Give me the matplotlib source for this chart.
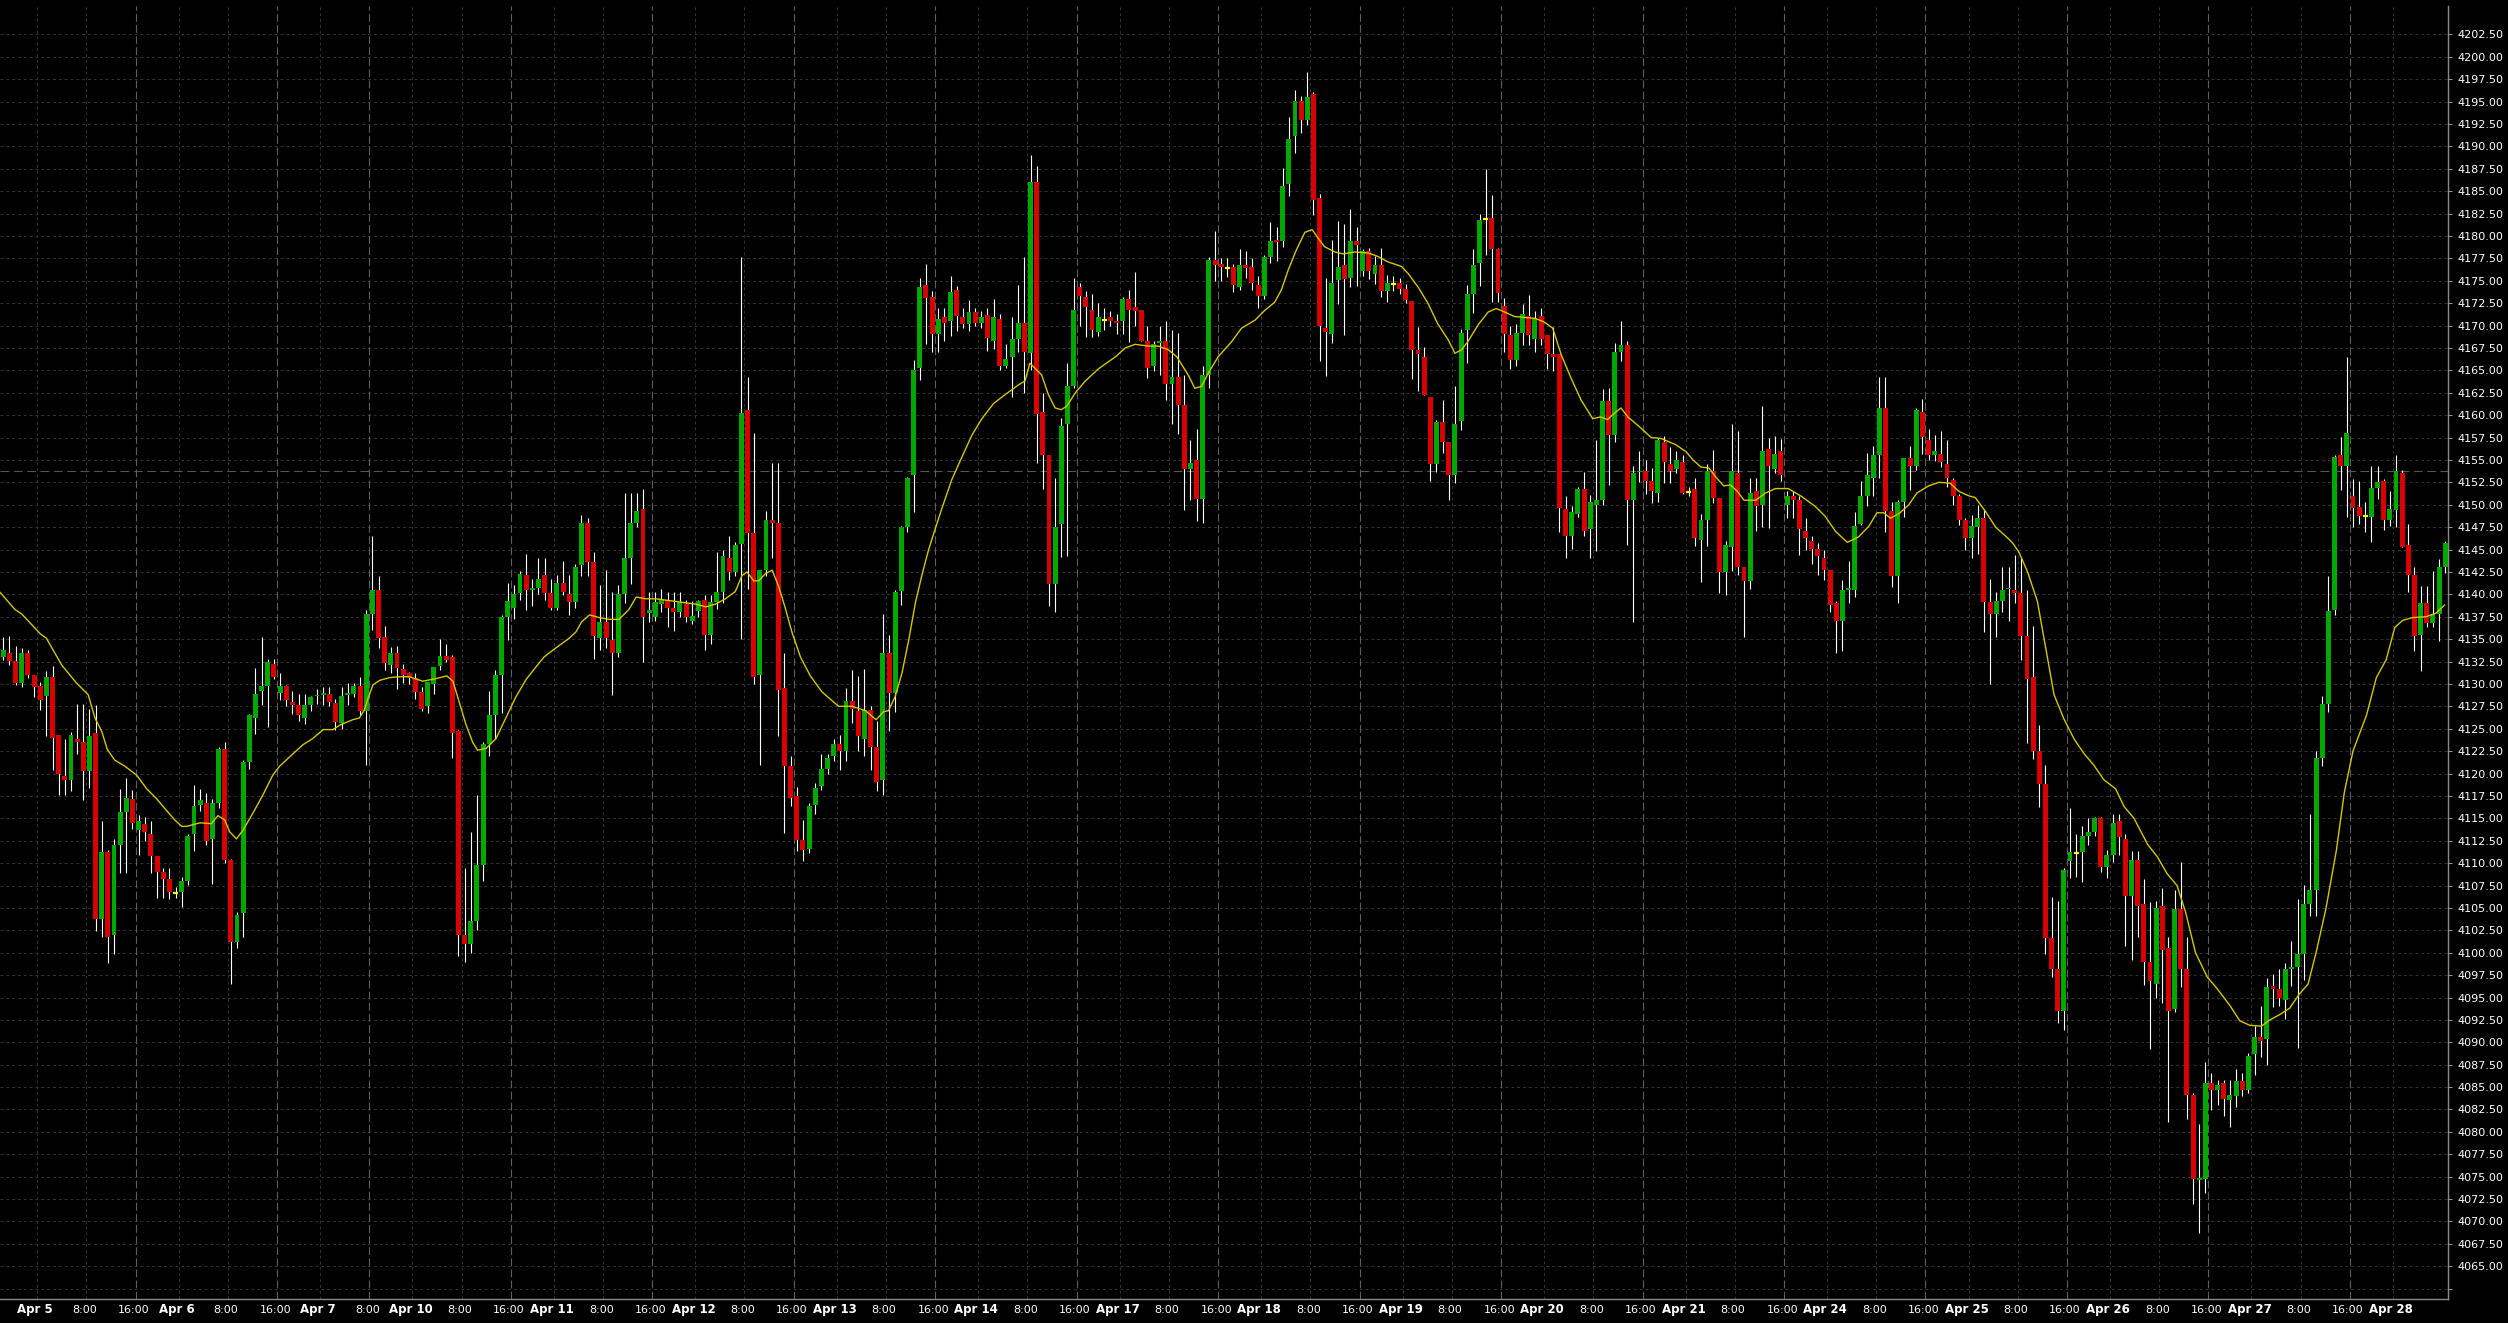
import numpy as np
import matplotlib
matplotlib.use("Agg")
import matplotlib.pyplot as plt
from matplotlib.transforms import blended_transform_factory

# hourly candles, index 0 = Apr 4 18:00
opens = [
    4133.0, 4133.4, 4132.6, 4130.1, 4133.4, 4131.0, 4129.8, 4128.6, 4130.8, 4124.3,
    4119.7, 4119.3, 4123.9, 4123.5, 4120.3, 4124.5, 4103.8, 4111.2, 4102.0, 4112.0,
    4115.7, 4117.1, 4113.7, 4114.4, 4113.2, 4110.8, 4109.0, 4108.2, 4106.7, 4106.8,
    4108.0, 4113.2, 4116.5, 4116.7, 4112.7, 4116.7, 4122.7, 4110.4, 4101.2, 4104.4,
    4121.3, 4126.2, 4129.2, 4129.8, 4132.2, 4129.0, 4129.8, 4128.0, 4127.7, 4126.2,
    4127.7, 4128.6, 4128.8, 4128.9, 4127.9, 4125.6, 4128.8, 4128.9, 4129.8, 4127.0,
    4137.8, 4140.5, 4135.2, 4132.1, 4133.4, 4131.7, 4131.2, 4130.7, 4129.1, 4127.5,
    4130.0, 4132.0, 4133.1, 4133.0, 4124.7, 4102.0, 4101.0, 4103.5, 4109.8, 4123.3,
    4126.5, 4131.0, 4137.5, 4138.5, 4140.1, 4142.1, 4140.5, 4140.7, 4142.1, 4140.2,
    4138.5, 4141.3, 4140.0, 4139.1, 4143.3, 4148.0, 4143.6, 4135.1, 4136.9, 4134.9,
    4133.5, 4140.0, 4144.1, 4148.0, 4149.5, 4137.9, 4137.5, 4138.9, 4139.4, 4138.5,
    4138.0, 4138.9, 4137.0, 4138.1, 4139.4, 4135.5, 4139.1, 4140.3, 4144.1, 4142.5,
    4145.6, 4160.6, 4146.8, 4131.0, 4142.7, 4148.3, 4148.0, 4129.5, 4120.8, 4117.5,
    4112.6, 4111.6, 4116.5, 4118.6, 4120.5, 4122.0, 4123.3, 4122.5, 4128.1, 4127.0,
    4123.9, 4127.1, 4123.0, 4119.3, 4133.5, 4129.0, 4140.4, 4147.5, 4153.3, 4165.3,
    4174.5, 4173.2, 4169.0, 4171.0, 4170.5, 4174.0, 4171.0, 4170.2, 4171.5, 4170.3,
    4171.2, 4168.3, 4170.7, 4165.5, 4166.5, 4168.5, 4170.3, 4166.9, 4186.0, 4160.3,
    4155.5, 4141.1, 4147.8, 4159.0, 4163.3, 4174.3, 4173.2, 4171.7, 4169.3, 4170.6,
    4171.0, 4170.5, 4170.5, 4173.0, 4172.1, 4171.7, 4168.3, 4165.5, 4168.0, 4168.3,
    4163.5, 4164.3, 4161.1, 4154.0, 4155.0, 4150.6, 4164.5, 4177.3, 4176.9, 4176.4,
    4176.5, 4174.3, 4176.8, 4176.5, 4174.5, 4173.3, 4177.6, 4179.5, 4179.4, 4185.8,
    4191.1, 4195.1, 4192.9, 4195.8, 4184.2, 4169.7, 4169.1, 4175.1, 4176.8, 4175.3,
    4179.4, 4176.1, 4178.3, 4175.8, 4176.8, 4173.8, 4174.6, 4174.7, 4174.1, 4172.7,
    4167.3, 4166.5, 4162.0, 4154.5, 4159.2, 4157.0, 4153.3, 4159.3, 4169.5, 4173.5,
    4177.0, 4181.9, 4182.0, 4178.5, 4172.2, 4168.9, 4166.2, 4169.2, 4171.1, 4168.5,
    4171.1, 4168.9, 4166.8, 4166.8, 4149.5, 4146.5, 4149.0, 4151.7, 4147.3, 4150.0,
    4150.5, 4161.6, 4157.8, 4167.0, 4167.8, 4150.5, 4153.6, 4153.8, 4152.6, 4151.3,
    4157.0, 4154.5, 4154.0, 4154.8, 4151.4, 4151.8, 4146.1, 4148.3, 4153.8, 4150.8,
    4142.5, 4145.3, 4153.5, 4143.1, 4141.5, 4151.5, 4150.0, 4156.2, 4154.0, 4156.0,
    4150.0, 4151.0, 4150.5, 4147.1, 4146.0, 4145.1, 4144.0, 4142.7, 4139.0, 4137.0,
    4140.5, 4140.5, 4147.8, 4151.0, 4153.0, 4155.5, 4160.8, 4149.3, 4142.0, 4150.3,
    4155.2, 4154.3, 4160.3, 4157.2, 4155.5, 4155.7, 4154.5, 4152.8, 4151.0, 4148.3,
    4146.3, 4147.5, 4148.5, 4139.1, 4137.8, 4139.3, 4140.6, 4140.5, 4140.2, 4135.3,
    4130.8, 4122.5, 4118.8, 4101.6, 4098.2, 4093.5, 4110.2, 4111.1, 4111.2, 4113.0,
    4113.5, 4115.0, 4109.6, 4110.9, 4114.7, 4112.7, 4106.3, 4110.4, 4105.4, 4099.0,
    4096.5, 4105.2, 4100.5, 4093.7, 4104.9, 4098.2, 4084.1, 4074.6, 4074.7, 4085.5,
    4084.7, 4085.5, 4083.6, 4084.0, 4085.7, 4084.7, 4088.7, 4090.6, 4090.4, 4096.3,
    4096.0, 4094.7, 4098.2, 4098.4, 4099.9, 4105.4, 4107.0, 4121.7, 4127.8, 4138.3,
    4155.5, 4154.3, 4151.0, 4149.7, 4148.7, 4148.6, 4151.9, 4152.7, 4148.3, 4149.4,
    4153.5, 4145.5, 4142.1, 4135.5, 4139.0, 4136.8, 4137.8, 4143.0,
]
highs = [
    4135.2, 4135.4, 4134.2, 4134.0, 4133.8, 4131.0, 4130.2, 4131.4, 4132.0, 4124.3,
    4123.9, 4124.6, 4127.8, 4127.8, 4127.2, 4127.7, 4114.7, 4111.5, 4112.7, 4118.3,
    4119.5, 4118.2, 4115.4, 4115.2, 4114.7, 4110.8, 4109.4, 4109.4, 4107.3, 4108.4,
    4113.3, 4118.7, 4118.3, 4117.8, 4117.2, 4123.0, 4123.5, 4110.5, 4104.5, 4121.5,
    4126.6, 4131.8, 4135.2, 4132.8, 4132.8, 4131.2, 4129.9, 4129.2, 4128.9, 4128.9,
    4128.7, 4129.4, 4129.6, 4129.6, 4128.3, 4129.6, 4130.1, 4130.1, 4130.8, 4138.3,
    4146.5, 4142.0, 4136.5, 4134.1, 4134.2, 4132.2, 4131.3, 4131.2, 4129.6, 4130.2,
    4131.9, 4135.0, 4134.4, 4133.2, 4124.9, 4109.4, 4113.5, 4117.6, 4123.5, 4129.2,
    4131.5, 4137.7, 4141.3, 4141.0, 4142.6, 4144.5, 4141.7, 4144.0, 4144.0, 4141.7,
    4142.1, 4143.7, 4142.2, 4143.4, 4148.9, 4148.5, 4144.7, 4141.0, 4142.7, 4140.3,
    4141.0, 4151.3, 4151.3, 4151.3, 4151.8, 4140.3, 4140.3, 4140.6, 4140.3, 4140.3,
    4140.3, 4139.4, 4139.2, 4139.4, 4139.9, 4139.9, 4144.7, 4145.0, 4146.5, 4145.8,
    4177.7, 4164.2, 4158.0, 4142.7, 4149.3, 4154.6, 4154.6, 4133.4, 4121.9, 4118.5,
    4114.8, 4116.7, 4118.9, 4122.2, 4122.2, 4123.9, 4124.3, 4129.5, 4131.5, 4130.9,
    4131.7, 4127.5, 4125.9, 4137.8, 4135.5, 4140.5, 4147.6, 4153.1, 4166.2, 4175.3,
    4176.9, 4173.8, 4172.0, 4172.0, 4175.5, 4174.4, 4172.0, 4172.9, 4172.0, 4171.6,
    4172.0, 4173.0, 4171.3, 4167.9, 4171.0, 4174.5, 4177.6, 4189.0, 4187.8, 4162.5,
    4155.6, 4153.0, 4159.7, 4165.8, 4175.3, 4174.7, 4173.8, 4173.5, 4172.5, 4171.9,
    4171.6, 4171.3, 4173.2, 4174.0, 4176.0, 4171.7, 4170.0, 4168.3, 4170.0, 4170.5,
    4169.5, 4169.2, 4164.5, 4157.2, 4158.5, 4165.5, 4177.7, 4180.5, 4177.5, 4177.5,
    4176.9, 4178.5, 4178.3, 4177.5, 4175.5, 4177.9, 4181.6, 4181.0, 4187.6, 4193.3,
    4196.3, 4195.6, 4198.3, 4196.1, 4184.7, 4175.3, 4179.5, 4181.7, 4181.3, 4183.0,
    4181.0, 4178.5, 4178.6, 4177.8, 4178.6, 4175.6, 4175.5, 4175.3, 4174.6, 4172.7,
    4169.8, 4167.6, 4162.0, 4159.4, 4161.7, 4157.0, 4163.2, 4169.6, 4174.5, 4178.5,
    4182.5, 4187.5, 4184.6, 4178.7, 4173.1, 4169.9, 4170.2, 4172.4, 4173.4, 4171.6,
    4171.9, 4168.9, 4169.8, 4166.8, 4151.0, 4149.8, 4152.0, 4153.7, 4151.1, 4157.2,
    4162.9, 4163.0, 4168.0, 4170.5, 4168.3, 4154.3, 4156.0, 4155.0, 4154.1, 4157.4,
    4157.7, 4156.4, 4156.0, 4155.6, 4152.0, 4153.0, 4149.0, 4154.5, 4156.1, 4150.8,
    4146.0, 4159.0, 4158.2, 4143.1, 4153.0, 4153.0, 4161.0, 4157.4, 4157.7, 4157.3,
    4151.5, 4151.5, 4151.0, 4148.5, 4146.5, 4145.7, 4145.0, 4142.7, 4139.3, 4141.6,
    4143.7, 4149.2, 4152.6, 4155.8, 4156.5, 4164.2, 4164.3, 4150.3, 4150.5, 4155.2,
    4156.6, 4160.8, 4161.8, 4158.5, 4157.8, 4158.2, 4157.2, 4153.0, 4151.2, 4148.5,
    4148.9, 4150.0, 4149.5, 4141.7, 4140.3, 4143.0, 4143.0, 4144.4, 4144.2, 4140.5,
    4136.5, 4125.4, 4121.0, 4106.2, 4105.8, 4109.5, 4116.2, 4113.3, 4114.1, 4115.0,
    4115.2, 4115.2, 4111.5, 4115.5, 4115.5, 4113.3, 4111.4, 4111.4, 4108.2, 4105.7,
    4105.8, 4107.2, 4101.8, 4107.0, 4110.1, 4101.8, 4084.3, 4080.9, 4087.8, 4086.6,
    4085.8, 4085.8, 4085.8, 4087.0, 4086.6, 4088.8, 4091.8, 4094.0, 4097.2, 4097.6,
    4098.2, 4098.9, 4101.3, 4106.0, 4107.6, 4115.5, 4122.5, 4128.7, 4142.0, 4155.6,
    4157.6, 4166.5, 4152.9, 4152.6, 4150.3, 4154.3, 4154.3, 4152.9, 4151.5, 4155.5,
    4153.9, 4147.8, 4143.0, 4140.9, 4140.9, 4142.6, 4143.9, 4146.0,
]
lows = [
    4132.7, 4132.1, 4129.9, 4129.7, 4130.7, 4128.5, 4127.1, 4124.2, 4120.4, 4117.6,
    4117.6, 4118.0, 4122.2, 4117.0, 4118.4, 4102.4, 4101.7, 4098.9, 4099.9, 4108.9,
    4108.9, 4113.8, 4110.9, 4112.5, 4108.9, 4106.1, 4106.1, 4106.0, 4106.1, 4105.1,
    4107.6, 4111.3, 4115.8, 4112.0, 4107.7, 4116.2, 4110.0, 4096.5, 4100.5, 4101.7,
    4120.5, 4124.4, 4127.6, 4125.2, 4130.5, 4128.2, 4127.5, 4126.6, 4125.9, 4125.5,
    4127.0, 4127.8, 4127.7, 4127.5, 4124.8, 4125.0, 4127.6, 4128.5, 4126.5, 4120.9,
    4136.0, 4134.0, 4131.5, 4131.2, 4129.4, 4130.1, 4130.0, 4128.3, 4127.0, 4126.7,
    4128.9, 4131.5, 4132.5, 4121.7, 4099.6, 4099.0, 4100.0, 4102.5, 4108.0, 4121.9,
    4123.9, 4126.7, 4134.9, 4137.2, 4139.4, 4138.2, 4138.7, 4140.0, 4139.4, 4138.2,
    4138.2, 4139.9, 4137.7, 4138.5, 4142.0, 4142.0, 4132.8, 4133.8, 4134.0, 4128.8,
    4133.0, 4139.0, 4141.2, 4147.5, 4132.5, 4136.9, 4137.0, 4138.0, 4136.4, 4135.9,
    4137.5, 4136.9, 4136.7, 4137.5, 4133.8, 4134.4, 4138.4, 4139.0, 4141.6, 4142.0,
    4135.0, 4140.6, 4130.0, 4120.9, 4142.0, 4144.0, 4124.2, 4113.4, 4116.4, 4111.3,
    4110.2, 4111.1, 4115.5, 4118.2, 4120.0, 4121.4, 4120.4, 4121.4, 4125.6, 4122.5,
    4122.0, 4120.4, 4118.1, 4117.6, 4124.7, 4126.9, 4138.8, 4147.0, 4149.2, 4163.9,
    4167.9, 4167.0, 4167.0, 4168.3, 4168.8, 4169.4, 4169.7, 4169.4, 4170.0, 4169.7,
    4167.2, 4167.4, 4165.0, 4165.3, 4162.0, 4167.0, 4162.5, 4165.0, 4154.7, 4151.7,
    4138.7, 4138.0, 4144.2, 4144.3, 4163.0, 4170.0, 4168.7, 4168.7, 4168.8, 4169.5,
    4170.0, 4169.1, 4169.0, 4168.2, 4170.0, 4168.3, 4164.1, 4164.9, 4164.5, 4161.7,
    4159.0, 4157.9, 4149.4, 4150.5, 4148.2, 4148.0, 4163.0, 4175.0, 4175.0, 4175.4,
    4173.7, 4174.0, 4175.3, 4174.0, 4172.0, 4173.0, 4177.0, 4177.2, 4178.8, 4184.5,
    4189.2, 4191.5, 4192.4, 4182.3, 4166.0, 4164.4, 4168.0, 4172.4, 4168.9, 4174.3,
    4174.4, 4175.5, 4175.2, 4174.6, 4173.2, 4172.6, 4173.9, 4173.5, 4172.5, 4164.0,
    4162.7, 4162.2, 4152.6, 4153.7, 4155.8, 4150.5, 4152.4, 4158.3, 4165.8, 4171.4,
    4174.4, 4177.9, 4172.6, 4172.6, 4167.0, 4165.1, 4165.5, 4167.8, 4167.8, 4167.0,
    4167.8, 4165.1, 4164.9, 4146.9, 4144.0, 4145.1, 4148.6, 4146.5, 4144.0, 4144.8,
    4150.0, 4152.2, 4157.0, 4166.0, 4145.5, 4136.9, 4152.5, 4151.2, 4150.2, 4150.3,
    4152.4, 4152.4, 4153.5, 4151.2, 4151.0, 4145.4, 4141.4, 4145.4, 4150.2, 4140.1,
    4139.9, 4142.6, 4142.2, 4135.2, 4140.6, 4147.1, 4147.5, 4147.4, 4153.5, 4152.7,
    4148.5, 4148.5, 4144.4, 4145.0, 4143.4, 4142.2, 4141.6, 4138.0, 4133.4, 4133.7,
    4139.0, 4139.7, 4147.7, 4149.9, 4151.0, 4153.0, 4147.0, 4140.8, 4139.0, 4148.6,
    4151.6, 4153.9, 4155.7, 4155.0, 4154.9, 4154.2, 4152.0, 4150.0, 4147.7, 4145.0,
    4144.1, 4144.5, 4135.8, 4130.0, 4135.2, 4138.0, 4137.0, 4139.0, 4132.7, 4123.4,
    4121.6, 4116.3, 4099.9, 4097.3, 4092.1, 4091.4, 4108.3, 4108.5, 4107.9, 4112.0,
    4113.0, 4109.0, 4108.3, 4110.1, 4110.9, 4100.7, 4099.2, 4101.8, 4096.4, 4089.3,
    4095.0, 4094.4, 4081.1, 4093.4, 4096.2, 4081.4, 4072.0, 4068.7, 4073.2, 4082.4,
    4083.0, 4081.8, 4080.6, 4082.8, 4084.0, 4084.3, 4086.4, 4088.4, 4087.5, 4093.9,
    4094.0, 4092.6, 4096.3, 4089.4, 4097.0, 4104.1, 4104.1, 4120.8, 4126.9, 4137.7,
    4151.6, 4148.6, 4147.5, 4147.8, 4146.9, 4145.8, 4150.6, 4147.2, 4147.6, 4147.5,
    4145.3, 4140.3, 4133.7, 4131.4, 4136.3, 4136.4, 4134.8, 4142.4,
]
closes = [
    4133.8, 4132.6, 4130.1, 4133.4, 4131.0, 4129.6, 4128.2, 4130.8, 4124.0, 4120.0,
    4119.3, 4124.3, 4123.5, 4120.3, 4124.2, 4103.8, 4111.2, 4101.8, 4112.0, 4115.7,
    4117.3, 4114.5, 4114.7, 4113.5, 4110.8, 4109.0, 4108.2, 4106.8, 4106.7, 4108.0,
    4113.0, 4116.4, 4117.0, 4112.5, 4116.7, 4122.7, 4110.4, 4101.2, 4104.2, 4121.3,
    4126.5, 4128.9, 4129.8, 4132.5, 4130.8, 4129.8, 4128.2, 4127.7, 4126.5, 4127.7,
    4128.5, 4128.8, 4128.9, 4128.0, 4125.8, 4128.7, 4128.9, 4129.8, 4127.0, 4137.8,
    4140.5, 4135.1, 4132.3, 4133.4, 4131.8, 4131.0, 4130.7, 4129.1, 4127.2, 4130.2,
    4131.9, 4133.1, 4132.7, 4124.5, 4102.0, 4101.0, 4103.5, 4109.8, 4123.3, 4126.5,
    4131.0, 4137.5, 4139.3, 4140.0, 4142.3, 4140.5, 4140.7, 4141.7, 4140.1, 4138.5,
    4141.3, 4140.3, 4139.1, 4143.1, 4148.0, 4143.6, 4135.3, 4136.9, 4135.1, 4133.5,
    4140.0, 4144.1, 4148.0, 4149.3, 4137.5, 4138.3, 4139.1, 4139.4, 4138.5, 4138.0,
    4139.1, 4137.5, 4137.6, 4139.2, 4135.5, 4139.1, 4140.3, 4144.3, 4142.5, 4145.5,
    4160.2, 4146.8, 4130.8, 4142.7, 4148.3, 4148.0, 4129.3, 4120.8, 4117.3, 4112.6,
    4111.5, 4116.4, 4118.4, 4120.5, 4121.7, 4123.3, 4122.5, 4128.1, 4127.2, 4124.2,
    4127.1, 4123.0, 4119.0, 4133.5, 4129.0, 4140.3, 4147.5, 4153.0, 4165.0, 4174.3,
    4173.1, 4169.0, 4170.7, 4170.3, 4173.7, 4171.1, 4170.2, 4171.5, 4170.3, 4171.0,
    4168.6, 4171.0, 4165.5, 4166.3, 4168.5, 4170.3, 4167.0, 4186.0, 4160.1, 4155.6,
    4141.1, 4147.5, 4158.8, 4163.2, 4171.7, 4173.3, 4172.1, 4169.5, 4171.0, 4170.6,
    4170.5, 4170.3, 4173.0, 4171.7, 4171.6, 4168.3, 4165.3, 4167.9, 4168.3, 4163.5,
    4164.3, 4161.1, 4154.0, 4154.7, 4150.6, 4164.5, 4177.3, 4176.8, 4176.5, 4176.4,
    4174.5, 4176.8, 4176.4, 4174.8, 4173.3, 4177.6, 4179.4, 4179.3, 4185.6, 4190.8,
    4195.1, 4192.9, 4195.5, 4184.0, 4170.0, 4169.3, 4174.7, 4176.5, 4175.2, 4179.4,
    4179.0, 4178.3, 4176.1, 4176.8, 4173.8, 4174.8, 4174.6, 4174.1, 4172.8, 4167.3,
    4166.8, 4162.2, 4154.5, 4159.2, 4157.0, 4153.3, 4159.0, 4169.2, 4173.5, 4176.7,
    4181.8, 4181.9, 4178.5, 4173.6, 4169.1, 4166.1, 4169.2, 4171.3, 4168.9, 4170.8,
    4168.5, 4166.8, 4166.5, 4149.6, 4146.5, 4149.2, 4151.7, 4147.1, 4150.3, 4150.5,
    4161.6, 4157.8, 4167.0, 4167.8, 4150.5, 4153.5, 4153.8, 4152.6, 4151.5, 4157.2,
    4154.8, 4153.8, 4155.0, 4151.3, 4151.4, 4146.3, 4148.3, 4153.8, 4150.8, 4142.5,
    4145.5, 4153.8, 4143.1, 4141.5, 4151.3, 4149.8, 4156.0, 4154.3, 4155.7, 4153.3,
    4151.0, 4150.5, 4147.3, 4146.3, 4145.1, 4144.3, 4142.7, 4138.8, 4137.0, 4140.5,
    4140.7, 4147.6, 4151.0, 4153.3, 4155.5, 4160.8, 4149.3, 4142.0, 4150.3, 4155.2,
    4154.3, 4160.6, 4157.6, 4155.5, 4156.0, 4154.8, 4153.0, 4151.0, 4148.3, 4146.3,
    4147.6, 4148.5, 4139.1, 4137.8, 4139.3, 4140.5, 4140.7, 4140.2, 4135.3, 4130.5,
    4122.5, 4118.8, 4101.6, 4098.2, 4093.5, 4109.2, 4111.2, 4111.1, 4113.0, 4113.5,
    4115.0, 4109.6, 4110.9, 4114.5, 4112.9, 4106.3, 4110.4, 4105.2, 4099.0, 4096.8,
    4105.0, 4100.3, 4093.5, 4104.9, 4098.2, 4084.1, 4074.7, 4074.8, 4085.5, 4084.7,
    4085.2, 4083.7, 4084.1, 4085.7, 4084.7, 4088.5, 4090.6, 4090.2, 4096.2, 4096.0,
    4095.0, 4098.2, 4098.4, 4099.9, 4105.4, 4107.0, 4121.7, 4127.8, 4138.1, 4155.3,
    4154.3, 4158.0, 4149.6, 4148.7, 4148.7, 4151.9, 4152.5, 4148.3, 4149.5, 4153.8,
    4145.3, 4142.2, 4135.3, 4139.0, 4136.8, 4137.8, 4143.0, 4145.7,
]

# moving average line (candle position, price)
ma_pos = [-0.5, 1.9, 3, 6, 7, 9.5, 11.9, 13.8, 14.9, 16, 16.9, 18.1, 19.8, 21.7, 23.3, 24.9,
          26.5, 27.9, 29, 29.8, 32, 33.8, 34.9, 36, 36.8, 37.9, 39, 40.6, 42.2, 43.8, 44.9,
          47.1, 48.7, 50.3, 52, 53.6, 54.7, 56.8, 57.9, 58.7, 59.3, 60.1, 61.2, 62.8, 64.4,
          66, 68.2, 70.4, 72.1, 73.1, 74.1, 75.2, 76.3, 77.1, 78.5, 80.1, 81.7, 83.3, 85,
          86.6, 87.9, 89.8, 92, 93.1, 94, 95.3, 96.9, 98.5, 100.1, 101.7, 102.9, 104.4,
          106.1, 108.2, 110.4, 112.6, 114.2, 115.8, 117.4, 119, 120.1, 120.9, 122, 122.8,
          123.9, 125, 126.1, 127.2, 128.2, 129.6, 131.2, 133.1, 135.8, 138, 140.2, 141.9,
          143.1, 143.9, 145, 146.1, 147.2, 148.3, 149.4, 150.4, 151.5, 152.5, 154.2, 155.9,
          157.5, 159.1, 161, 162.9, 165.1, 166.1, 166.9, 168.8, 169.9, 171, 172, 172.9,
          174.3, 175.9, 178.1, 180.8, 182.4, 184, 186.2, 187.8, 189.4, 190.8, 192.7, 193.7,
          194.8, 196, 197.5, 199.7, 201.3, 203.5, 205.1, 206.7, 207.8, 208.9, 210.2, 211.6,
          212.8, 213.8, 214.8, 216.5, 217.8, 219.7, 221.9, 223.5, 225.1, 227.3, 228.4, 230,
          231.6, 233.2, 234.9, 236, 237.1, 238.1, 239.8, 241.4, 242.7, 244.1, 245.7, 247.3,
          249, 250.5, 251.9, 253.3, 254.9, 256.5, 258.4, 259.7, 260.8, 261.9, 263, 264.1,
          266, 267.9, 269.5, 271.9, 273.6, 274.7, 276, 277.3, 278.4, 279.7, 280.8, 281.9,
          283, 284.9, 286.5, 288.1, 290.2, 292.4, 294.6, 296.2, 297.9, 299.8, 301.6, 303.3,
          304.6, 305.7, 306.8, 308.2, 309.8, 311.1, 313, 314.7, 316.5, 317.9, 319.5, 320.6,
          322.3, 323.9, 326, 326.7, 327.7, 329.1, 330.7, 332.3, 333.4, 335, 336.7, 338.3,
          339.9, 341.5, 343.4, 344.8, 346.4, 348.6, 350.2, 351.8, 353.4, 354.8, 356.4, 358.3,
          359.9, 362, 363.6, 365.2, 367.1, 368.5, 370.1, 371.7, 373.3, 374.7, 376, 377.6,
          379.3, 380.6, 382, 383.1, 384.2, 385.8, 387.4, 388.8, 390.1, 391.7, 393.9, 395.5,
          396.9]
ma_val = [4140.2, 4138.3, 4137.8, 4135.6, 4135.1, 4132.1, 4130.1, 4128.8, 4126.2, 4124.7,
          4122.7, 4121.5, 4120.8, 4119.8, 4118.3, 4117.2, 4115.9, 4114.8, 4114.1, 4114.1,
          4114.5, 4114.4, 4115.3, 4114.8, 4113.5, 4112.7, 4113.7, 4115.6, 4117.6, 4119.8,
          4120.8, 4122.2, 4123.2, 4123.9, 4124.9, 4124.9, 4125.4, 4126.0, 4126.2, 4127.1,
          4128.4, 4129.9, 4130.4, 4130.7, 4130.8, 4130.8, 4130.3, 4130.6, 4130.9, 4130.3,
          4128.0, 4125.5, 4123.5, 4122.6, 4122.8, 4123.9, 4126.2, 4128.5, 4130.5, 4131.9,
          4133.0, 4134.0, 4135.1, 4135.8, 4136.9, 4137.7, 4137.4, 4137.2, 4137.2, 4138.3,
          4139.7, 4139.5, 4139.5, 4139.3, 4139.1, 4138.9, 4138.6, 4138.9, 4139.5, 4140.3,
          4142.1, 4142.5, 4141.5, 4141.5, 4142.3, 4142.7, 4140.8, 4138.3, 4135.8, 4133.0,
          4130.9, 4129.1, 4127.5, 4127.5, 4127.0, 4126.0, 4126.9, 4127.0, 4128.6, 4131.2,
          4134.9, 4139.1, 4142.3, 4144.9, 4147.3, 4149.4, 4152.8, 4155.4, 4157.8, 4159.6,
          4161.3, 4162.3, 4163.4, 4163.8, 4165.8, 4164.5, 4162.3, 4160.8, 4160.6, 4161.0,
          4162.5, 4163.8, 4165.2, 4166.5, 4167.5, 4167.9, 4167.7, 4167.7, 4167.3, 4166.5,
          4164.4, 4163.0, 4163.2, 4164.8, 4166.5, 4168.2, 4169.7, 4170.6, 4171.7, 4172.6,
          4174.0, 4176.2, 4178.4, 4180.4, 4180.7, 4179.7, 4178.8, 4178.2, 4178.0, 4178.2,
          4178.1, 4177.7, 4177.1, 4176.6, 4175.8, 4174.3, 4172.5, 4170.2, 4168.4, 4166.9,
          4167.3, 4168.2, 4170.1, 4171.5, 4171.9, 4171.5, 4171.0, 4170.9, 4170.8, 4170.4,
          4169.7, 4166.7, 4164.1, 4161.7, 4159.6, 4159.8, 4159.5, 4160.2, 4160.8, 4159.8,
          4158.7, 4157.5, 4157.4, 4156.7, 4155.9, 4155.0, 4154.2, 4154.1, 4153.1, 4152.1,
          4152.2, 4151.5, 4150.5, 4150.5, 4151.3, 4151.8, 4151.8, 4150.9, 4149.8, 4148.7,
          4147.0, 4145.8, 4146.4, 4147.6, 4149.1, 4149.1, 4148.5, 4149.0, 4150.0, 4151.3,
          4152.1, 4152.5, 4152.4, 4151.5, 4151.0, 4150.8, 4149.2, 4147.5, 4146.2, 4145.7,
          4144.7, 4142.5, 4139.2, 4133.0, 4128.8, 4126.1, 4123.8, 4122.2, 4120.9, 4119.3,
          4118.3, 4116.3, 4115.0, 4112.1, 4110.7, 4108.8, 4107.5, 4104.5, 4100.0, 4097.3,
          4096.0, 4094.1, 4092.4, 4091.9, 4091.8, 4092.5, 4093.1, 4093.8, 4095.4, 4096.5,
          4100.0, 4104.9, 4111.4, 4117.9, 4122.5, 4124.5, 4126.5, 4130.7, 4132.7, 4136.3,
          4137.1, 4137.4, 4137.5, 4137.9, 4138.8]

marker_price = 4153.8

day_names = ["Apr 5", "Apr 6", "Apr 7", "Apr 10", "Apr 11", "Apr 12", "Apr 13", "Apr 14",
             "Apr 17", "Apr 18", "Apr 19", "Apr 20", "Apr 21", "Apr 24", "Apr 25", "Apr 26",
             "Apr 27", "Apr 28"]
day_pos = [6, 29, 52, 67, 90, 113, 136, 159, 182, 205, 228, 251, 274, 297, 320, 343, 366, 389]
hour_pos = [14, 22, 37, 45, 60, 75, 83, 98, 106, 121, 129, 144, 152, 167, 175, 190, 198,
            213, 221, 236, 244, 259, 267, 282, 290, 305, 313, 328, 336, 351, 359, 374, 382]
hour_names = ["8:00", "16:00", "8:00", "16:00", "8:00", "8:00", "16:00", "8:00", "16:00",
              "8:00", "16:00", "8:00", "16:00", "8:00", "16:00", "8:00", "16:00", "8:00",
              "16:00", "8:00", "16:00", "8:00", "16:00", "8:00", "16:00", "8:00", "16:00",
              "8:00", "16:00", "8:00", "16:00", "8:00", "16:00"]
session_pos = [22, 45, 60, 83, 106, 129, 152, 175, 198, 221, 244, 267, 290, 313, 336, 359, 382]

o = np.array(opens)
h = np.array(highs)
l = np.array(lows)
c = np.array(closes)
x = np.arange(len(o))

fig = plt.figure(figsize=(25.08, 13.23), dpi=100, facecolor="black")
ax = fig.add_axes([0, 24 / 1323, 2448 / 2508, 1293 / 1323], facecolor="black")

# grid
for v in np.arange(4062.5, 4203, 2.5):
    ax.axhline(v, color="#333333", lw=0.7, ls=(0, (3, 3)), zorder=0)
for p in day_pos + hour_pos:
    if p in session_pos:
        continue
    ax.axvline(p - 0.5, color="#333333", lw=0.7, ls=(0, (3, 3)), zorder=0)
for p in session_pos:
    ax.axvline(p - 0.5, color="#5e5e5e", lw=0.8, ls=(0, (7, 3)), zorder=0)
ax.axhline(marker_price, color="#555555", lw=0.8, ls=(0, (8, 4)), zorder=0)

# candles
ax.vlines(x, l, h, color="white", lw=0.8, zorder=2)
up = c > o
down = c < o
flat = c == o
body_lo = np.minimum(o, c)
body_h = np.maximum(np.abs(c - o), 0.15)
ax.bar(x[up], body_h[up], bottom=body_lo[up], width=0.8, color="#00a800", lw=0, zorder=3)
ax.bar(x[down], body_h[down], bottom=body_lo[down], width=0.8, color="#d80000", lw=0, zorder=3)
ax.hlines(c[flat], x[flat] - 0.4, x[flat] + 0.4, color="#ffff00", lw=1.6, zorder=3)

ax.plot(ma_pos, ma_val, color="#d4c800", lw=1.0, zorder=4)

ax.set_xlim(-0.537, 397.45)
ax.set_ylim(4061.35, 4205.66)

# price axis on the right
ax.yaxis.tick_right()
yt = np.arange(4062.5, 4203, 2.5)
ax.set_yticks(yt)
ax.set_yticklabels(["" if v < 4064 else f"{v:.2f}" for v in yt])
ax.tick_params(axis="y", colors="#999999", labelcolor="white", labelsize=8,
               length=3, width=0.8, pad=4)
ax.set_xticks([])
for s in ["left", "top"]:
    ax.spines[s].set_visible(False)
for s in ["right", "bottom"]:
    ax.spines[s].set_color("#8a8a8a")
    ax.spines[s].set_linewidth(1.0)

# time axis labels
tr = blended_transform_factory(ax.transData, ax.transAxes)
for p, t in zip(day_pos, day_names):
    ax.text(p - 0.8, -0.0085, t, transform=tr, ha="center", va="center",
            color="white", fontsize=8.5, fontweight="bold", clip_on=False)
for p, t in zip(hour_pos, hour_names):
    ax.text(p - 0.8, -0.0085, t, transform=tr, ha="center", va="center",
            color="white", fontsize=8, clip_on=False)

fig.savefig("out.png", dpi=100, facecolor="black")
